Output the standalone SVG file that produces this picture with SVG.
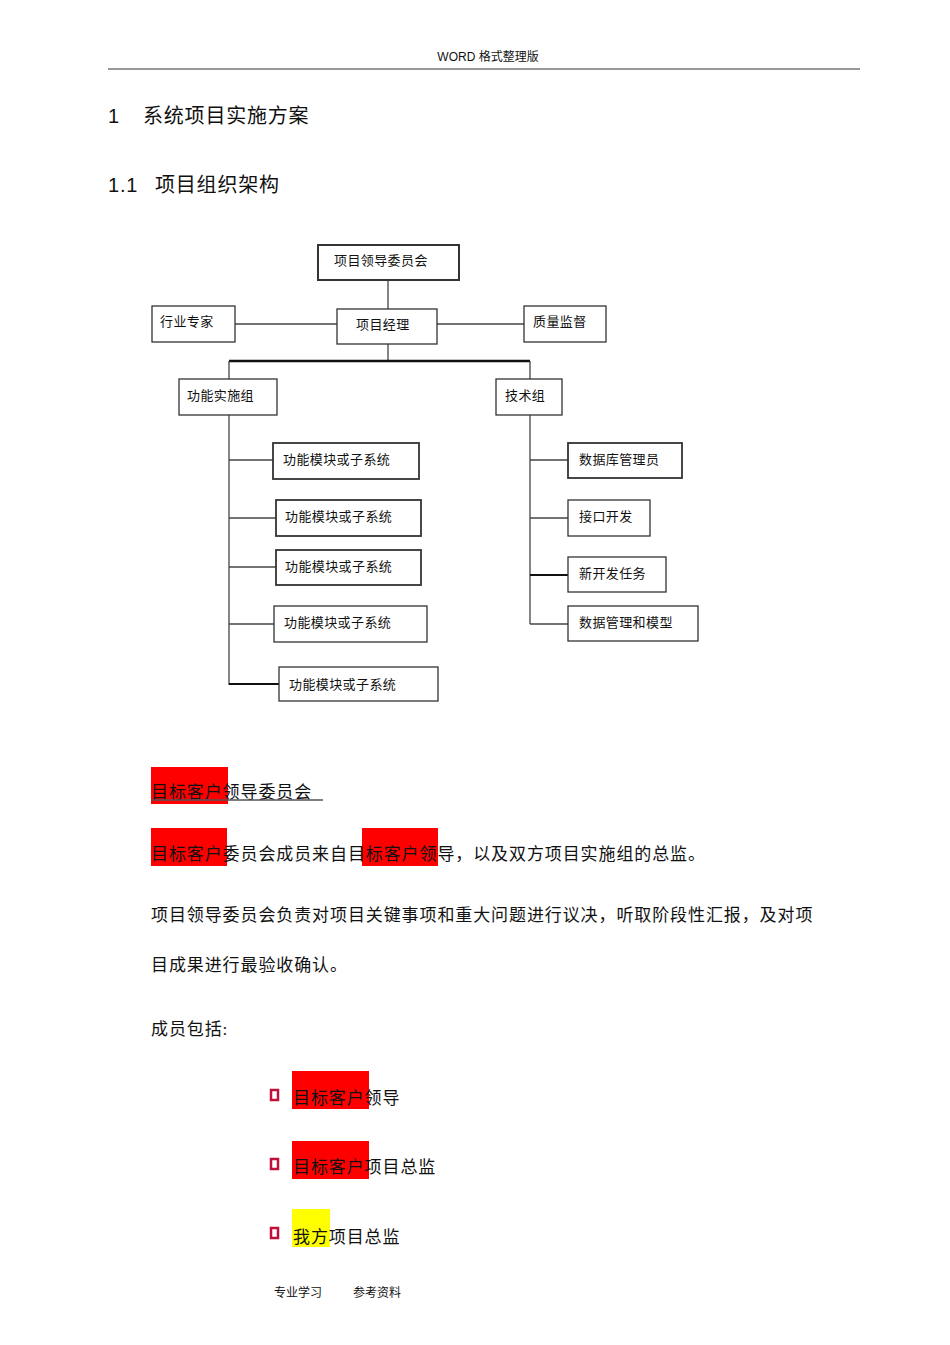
<svg xmlns="http://www.w3.org/2000/svg" width="950" height="1345" viewBox="0 0 950 1345">
<style>
text{font-family:"Liberation Serif","Noto Sans CJK SC",serif;fill:#111}
.n rect{fill:#fff;stroke:#333;stroke-width:1.3}
.n text{font-size:13px;letter-spacing:0.4px}
.c line{stroke:#444;stroke-width:1.3}
.b{font-size:17px;letter-spacing:0.9px}
.h{font-family:"Liberation Sans","Noto Sans CJK SC",sans-serif;font-size:20px;letter-spacing:0.8px}
</style>
<rect width="950" height="1345" fill="#fff"/>
<text x="488" y="61" text-anchor="middle" style="font-family:'Liberation Sans','Noto Sans CJK SC',sans-serif;font-size:12px">WORD  格式整理版</text>
<line x1="108" y1="69" x2="860" y2="69" stroke="#333" stroke-width="1"/>
<text class="h" x="108" y="123">1</text>
<text class="h" x="143" y="123">系统项目实施方案</text>
<text class="h" x="108" y="192">1.1</text>
<text class="h" x="155" y="192">项目组织架构</text>
<g class="c">
<line x1="388" y1="280" x2="388" y2="309"/>
<line x1="235" y1="324" x2="337" y2="324"/>
<line x1="437" y1="324" x2="524" y2="324"/>
<line x1="388" y1="344" x2="388" y2="361"/>
<line x1="229" y1="361" x2="530" y2="361" style="stroke:#111;stroke-width:2.5"/>
<line x1="229" y1="361" x2="229" y2="379"/>
<line x1="530" y1="361" x2="530" y2="379"/>
<line x1="229" y1="415" x2="229" y2="685"/>
<line x1="229" y1="460" x2="273" y2="460"/>
<line x1="229" y1="518" x2="276" y2="518"/>
<line x1="229" y1="567" x2="276" y2="567"/>
<line x1="229" y1="624" x2="274" y2="624"/>
<line x1="229" y1="684" x2="279" y2="684" style="stroke:#111;stroke-width:2.2"/>
<line x1="530" y1="415" x2="530" y2="624"/>
<line x1="530" y1="460" x2="568" y2="460"/>
<line x1="530" y1="518" x2="568" y2="518"/>
<line x1="530" y1="575" x2="568" y2="575" style="stroke:#111;stroke-width:2.2"/>
<line x1="530" y1="624" x2="568" y2="624"/>
</g>
<g id="n1" class="n"><rect x="318" y="245" width="141" height="35" style="stroke-width:2"/><text x="334" y="265">项目领导委员会</text></g>
<g id="n2" class="n"><rect x="152" y="306" width="83" height="36"/><text x="160" y="326">行业专家</text></g>
<g id="n3" class="n"><rect x="337" y="309" width="100" height="35"/><text x="356" y="329">项目经理</text></g>
<g id="n4" class="n"><rect x="524" y="306" width="82" height="36"/><text x="533" y="326">质量监督</text></g>
<g id="n5" class="n"><rect x="179" y="379" width="98" height="36"/><text x="187" y="400">功能实施组</text></g>
<g id="n6" class="n"><rect x="496" y="379" width="66" height="36"/><text x="505" y="400">技术组</text></g>
<g id="n7" class="n"><rect x="273" y="443" width="146" height="36" style="stroke-width:1.8"/><text x="283" y="464">功能模块或子系统</text></g>
<g id="n8" class="n"><rect x="276" y="500" width="145" height="36" style="stroke-width:1.8"/><text x="285" y="521">功能模块或子系统</text></g>
<g id="n9" class="n"><rect x="276" y="550" width="145" height="35" style="stroke-width:1.8"/><text x="285" y="571">功能模块或子系统</text></g>
<g id="n10" class="n"><rect x="274" y="606" width="153" height="36"/><text x="284" y="627">功能模块或子系统</text></g>
<g id="n11" class="n"><rect x="279" y="667" width="159" height="34"/><text x="289" y="689">功能模块或子系统</text></g>
<g id="n12" class="n"><rect x="568" y="443" width="114" height="35" style="stroke-width:1.8"/><text x="579" y="464">数据库管理员</text></g>
<g id="n13" class="n"><rect x="568" y="500" width="82" height="36"/><text x="579" y="521">接口开发</text></g>
<g id="n14" class="n"><rect x="568" y="557" width="98" height="35"/><text x="579" y="578">新开发任务</text></g>
<g id="n15" class="n"><rect x="568" y="606" width="130" height="35"/><text x="579" y="627">数据管理和模型</text></g>
<rect x="151" y="767" width="77" height="37" fill="#f00"/>
<text class="b" x="151" y="798">目标客户领导委员会</text>
<line x1="151" y1="800" x2="323" y2="800" stroke="#555" stroke-width="1.3"/>
<rect x="151" y="828" width="76" height="38" fill="#f00"/>
<rect x="362" y="828" width="76" height="38" fill="#f00"/>
<text class="b" x="151" y="860">目标客户委员会成员来自目标客户领导，以及双方项目实施组的总监。</text>
<text class="b" x="151" y="921">项目领导委员会负责对项目关键事项和重大问题进行议决，听取阶段性汇报，及对项</text>
<text class="b" x="151" y="971">目成果进行最验收确认。</text>
<text class="b" x="151" y="1035">成员包括:</text>
<g fill="#fff" stroke="#c0103a" stroke-width="2.5">
<rect x="271" y="1090" width="7" height="10"/>
<rect x="271" y="1159" width="7" height="10"/>
<rect x="271" y="1228" width="7" height="10"/>
</g>
<rect x="292" y="1071" width="77" height="38" fill="#f00"/>
<text class="b" x="293" y="1104">目标客户领导</text>
<rect x="292" y="1141" width="77" height="38" fill="#f00"/>
<text class="b" x="293" y="1173">目标客户项目总监</text>
<rect x="292" y="1209" width="38" height="38" fill="#ff0"/>
<text class="b" x="293" y="1243">我方项目总监</text>
<text x="274" y="1297" style="font-size:12px">专业学习</text>
<text x="353" y="1297" style="font-size:12px">参考资料</text>
</svg>
